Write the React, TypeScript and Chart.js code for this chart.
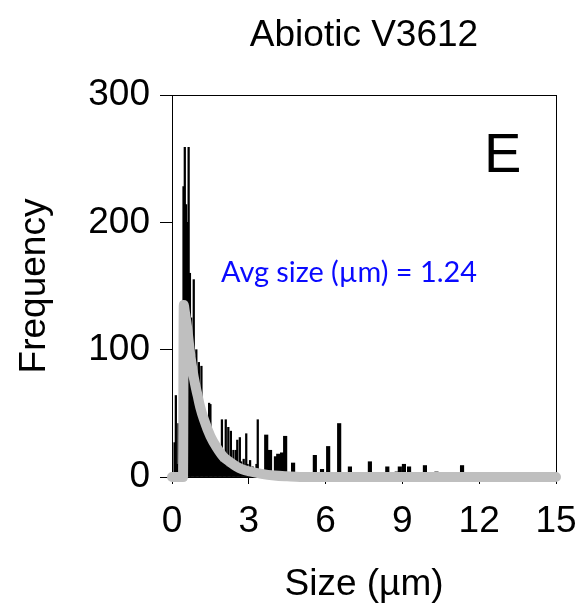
import React, { useEffect, useRef } from "react";
import { Chart, registerables } from "chart.js";

Chart.register(...registerables);

// ---- data ----
const titleText = "Abiotic V3612";
const panelLabel = "E";
const avgLabel = "Avg size (µm) = 1.24";
const xTitle = "Size (µm)";
const yTitle = "Frequency";

// fine histogram bins (µm) and counts
const fineSizes = [
  0.10, 0.15, 0.20, 0.25, 0.30, 0.35, 0.40, 0.45, 0.50, 0.55, 0.60, 0.65, 0.70, 0.75, 0.80, 0.85,
  0.90, 0.95, 1.00, 1.05, 1.10, 1.15, 1.20, 1.25, 1.30, 1.35, 1.40, 1.45, 1.50, 1.55, 1.60, 1.65,
  1.70, 1.75, 1.80, 1.85, 1.90, 1.95, 2.00, 2.05, 2.10, 2.15, 2.20, 2.25, 2.30, 2.35, 2.40, 2.45,
  2.50, 2.55, 2.60, 2.65, 2.70, 2.75, 2.80, 2.85, 2.90, 2.95, 3.00, 3.05, 3.10, 3.15, 3.20, 3.25,
  3.30, 3.35, 3.40,
];
const fineCounts = [
  27, 64, 10, 42, 6, 12, 18, 228, 259, 214, 200, 259, 160, 125, 110, 155,
  95, 100, 80, 90, 65, 87, 55, 50, 42, 38, 35, 58, 57, 30, 22, 28,
  18, 25, 15, 20, 12, 45, 14, 10, 45, 8, 39, 14, 36, 8, 21, 10,
  21, 29, 6, 31, 12, 8, 14, 6, 34, 10, 5, 13, 4, 8, 3, 6,
  10, 45, 4,
];

// sparse (larger) bins
const coarseSizes = [
  3.68, 3.83, 4.06, 4.15, 4.30, 4.42, 4.73, 5.58, 5.86, 6.10, 6.53, 6.95, 7.73, 8.41, 8.78, 8.90,
  9.06, 9.26, 9.88, 10.33, 11.33, 11.70, 14.6, 14.8,
];
const coarseCounts = [
  33, 21, 16, 18, 19, 32, 11, 17, 6, 24, 42, 8, 12, 8, 4, 8,
  10, 8, 9, 4, 9, 2, 2, 2,
];

// fitted distribution curve
const curveSizes = [0, 0.43, 0.46, 0.5, 0.6, 0.7, 0.8, 0.9, 1.0, 1.1, 1.25, 1.5, 1.75, 2.0, 2.25, 2.5, 2.75, 3.0, 3.5, 4.0, 4.5, 5.0, 15];
const curveFreq = [0, 0, 135, 130, 116, 98, 84, 73, 64, 55, 45, 32, 23, 16, 12, 8.5, 6, 4.5, 2.5, 1.2, 0.5, 0, 0];

const xTicks = [0, 3, 6, 9, 12, 15];
const yTicks = [0, 100, 200, 300];

const FONT = "'Liberation Sans', Arial, sans-serif";

export default function App() {
  const ref = useRef<HTMLCanvasElement | null>(null);

  useEffect(() => {
    document.body.style.margin = "0";
    const canvas = ref.current;
    if (!canvas) return;

    const textPlugin = {
      id: "texts",
      beforeDatasetsDraw(chart: any) {
        const { ctx, chartArea } = chart;
        ctx.save();
        ctx.strokeStyle = "#000";
        ctx.lineWidth = 1;
        ctx.strokeRect(chartArea.left + 0.5, chartArea.top + 0.5, chartArea.right - chartArea.left, chartArea.bottom - chartArea.top);
        ctx.restore();
      },
      afterDraw(chart: any) {
        const { ctx, chartArea } = chart;
        const cx = (chartArea.left + chartArea.right) / 2;
        ctx.save();
        ctx.fillStyle = "#000";
        ctx.textAlign = "center";
        ctx.textBaseline = "alphabetic";
        ctx.font = `37px ${FONT}`;
        ctx.fillText(titleText, cx, 46);
        ctx.textAlign = "left";
        ctx.font = `56px ${FONT}`;
        ctx.fillText(panelLabel, 484, 172);
        ctx.fillStyle = "#0a0aff";
        ctx.font = `29px Lato, 'Open Sans', sans-serif`;
        ctx.fillText(avgLabel, 221, 282, 256);
        ctx.restore();
      },
    };

    const chart = new Chart(canvas, {
      type: "bar",
      data: {
        datasets: [
          {
            type: "line",
            data: curveSizes.map((x, i) => ({ x, y: curveFreq[i] })),
            borderColor: "#bfbfbf",
            borderWidth: 10,
            pointRadius: 0,
            borderCapStyle: "round",
            borderJoinStyle: "round",
            cubicInterpolationMode: "monotone",
            clip: false,
            order: 0,
          } as any,
          {
            type: "bar",
            data: fineSizes.map((x, i) => ({ x, y: fineCounts[i] })),
            backgroundColor: "#000",
            barThickness: 1.6,
            grouped: false,
            order: 1,
          } as any,
          {
            type: "bar",
            data: coarseSizes.map((x, i) => ({ x, y: coarseCounts[i] })),
            backgroundColor: "#000",
            barThickness: 3.5,
            grouped: false,
            order: 2,
          } as any,
        ],
      },
      options: {
        responsive: false,
        animation: false,
        layout: { padding: { top: 95, right: 21, left: 0, bottom: 0 } },
        plugins: { legend: { display: false }, tooltip: { enabled: false }, title: { display: false } },
        scales: {
          x: {
            type: "linear",
            min: 0,
            max: 15,
            offset: false,
            afterBuildTicks: (s: any) => {
              s.ticks = xTicks.map((v) => ({ value: v }));
            },
            afterFit: (s: any) => {
              s.height = 133;
              s.paddingLeft = 0;
              s.paddingRight = 0;
            },
            grid: { drawOnChartArea: false, drawTicks: true, tickLength: 7, tickColor: "#000", offset: false },
            border: { display: true, color: "#000", width: 1 },
            ticks: { color: "#000", font: { family: FONT, size: 37 }, padding: 16, maxRotation: 0, autoSkip: false },
            title: { display: true, text: xTitle, color: "#000", font: { family: FONT, size: 37 }, padding: { top: 0, bottom: 3 } },
          },
          y: {
            type: "linear",
            min: 0,
            max: 300,
            afterBuildTicks: (s: any) => {
              s.ticks = yTicks.map((v) => ({ value: v }));
            },
            afterFit: (s: any) => {
              s.width = 172;
              s.paddingTop = 0;
              s.paddingBottom = 0;
            },
            grid: { drawOnChartArea: false, drawTicks: true, tickLength: 12, tickColor: "#000" },
            border: { display: true, color: "#000", width: 1 },
            ticks: { color: "#000", font: { family: FONT, size: 37 }, padding: 10, autoSkip: false },
            title: { display: true, text: yTitle, color: "#000", font: { family: FONT, size: 37 }, padding: { top: 13, bottom: 0 } },
          },
        },
      },
      plugins: [textPlugin],
    } as any);

    return () => chart.destroy();
  }, []);

  return <canvas ref={ref} width={577} height={610} style={{ display: "block" }} />;
}
